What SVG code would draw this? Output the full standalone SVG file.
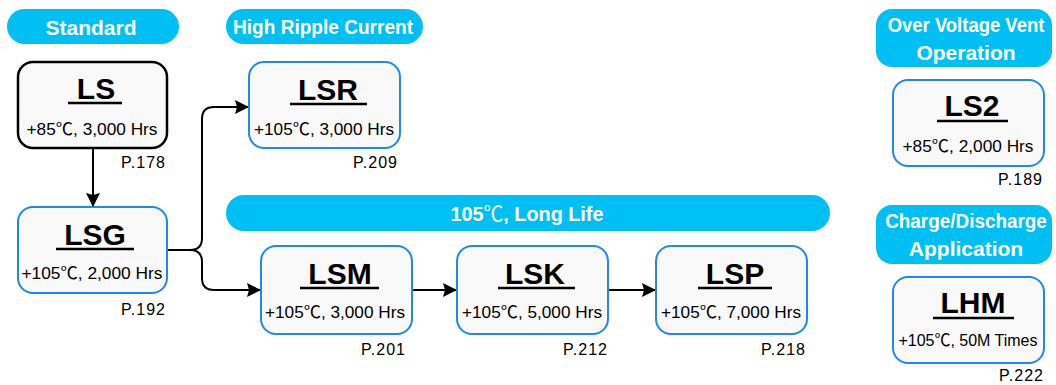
<svg xmlns="http://www.w3.org/2000/svg" width="1056" height="385" viewBox="0 0 1056 385">
<defs>
<marker id="arr" viewBox="0 0 14 14" refX="14" refY="7" markerWidth="14" markerHeight="14" markerUnits="userSpaceOnUse" orient="auto">
<path d="M0,0 L14,7 L0,14 L2,7 Z" fill="#000"/>
</marker>
<style>
.pill{fill:#00BFF3;}
.ptxt{font-family:"Liberation Sans","Noto Sans CJK SC",sans-serif;font-weight:bold;font-size:21px;fill:#fff;text-anchor:middle;}
.box{fill:#f9f9f9;stroke:#1E88F0;stroke-width:2;}
.boxk{fill:#f9f9f9;stroke:#000;stroke-width:2.5;}
.title{font-family:"Liberation Sans",sans-serif;font-weight:bold;font-size:30px;fill:#000;text-anchor:middle;}
.ul{stroke:#000;stroke-width:2.5;}
.sub{font-family:"Liberation Sans","Noto Sans CJK SC",sans-serif;font-size:16.5px;fill:#000;text-anchor:middle;}
.deg{font-family:"Noto Sans CJK SC",sans-serif;font-weight:normal;}
.pg{font-family:"Liberation Sans",sans-serif;font-size:16px;fill:#000;text-anchor:end;}
.con{fill:none;stroke:#000;stroke-width:2;}
</style>
</defs>
<rect width="1056" height="385" fill="#fff"/>

<g id="hdr-standard"><rect class="pill" x="7" y="9" width="172" height="35" rx="17.5"/><text class="ptxt" x="91" y="35" font-size="22">Standard</text></g>
<g id="hdr-ripple"><rect class="pill" x="226" y="9" width="197" height="35" rx="17.5"/><text class="ptxt" x="323" y="34" textLength="180" lengthAdjust="spacingAndGlyphs">High Ripple Current</text></g>
<g id="hdr-longlife"><rect class="pill" x="226" y="195" width="604" height="36" rx="18"/><text class="ptxt" x="527" y="221" textLength="153" lengthAdjust="spacingAndGlyphs">105<tspan class="deg">℃</tspan>, Long Life</text></g>
<g id="hdr-vent"><rect class="pill" x="876" y="9" width="176" height="58" rx="16"/><text class="ptxt" transform="translate(966,32) scale(0.88,1)">Over Voltage Vent</text><text class="ptxt" x="966" y="60">Operation</text></g>
<g id="hdr-charge"><rect class="pill" x="876" y="205" width="176" height="59" rx="16"/><text class="ptxt" transform="translate(966,228) scale(0.9,1)">Charge/Discharge</text><text class="ptxt" x="966" y="256">Application</text></g>

<g id="connectors">
<path class="con" d="M93,148 V207" marker-end="url(#arr)"/>
<path class="con" d="M167,250 H190 Q202,250 202,238 V119 Q202,107 214,107 H249" marker-end="url(#arr)"/>
<path class="con" d="M190,250 Q202,250 202,262 V278 Q202,290 214,290 H261" marker-end="url(#arr)"/>
<path class="con" d="M412,290 H457" marker-end="url(#arr)"/>
<path class="con" d="M608,290 H656" marker-end="url(#arr)"/>
</g>

<g id="node-LS"><rect class="boxk" x="18" y="62" width="149" height="86" rx="15"/><text class="title" x="96" y="99" font-size="29">LS</text><line class="ul" x1="68" y1="103" x2="122" y2="103"/><text class="sub" x="92" y="135" textLength="131" lengthAdjust="spacingAndGlyphs">+85<tspan class="deg">℃</tspan>, 3,000 Hrs</text><text class="pg" x="165" y="168" textLength="44">P.178</text></g>
<g id="node-LSG"><rect class="box" x="18" y="207" width="149" height="86" rx="15"/><text class="title" x="95" y="245">LSG</text><line class="ul" x1="56" y1="249" x2="134" y2="249"/><text class="sub" x="92" y="279" textLength="141" lengthAdjust="spacingAndGlyphs">+105<tspan class="deg">℃</tspan>, 2,000 Hrs</text><text class="pg" x="165" y="315" textLength="44">P.192</text></g>
<g id="node-LSR"><rect class="box" x="249" y="62" width="151" height="86" rx="15"/><text class="title" x="328" y="100">LSR</text><line class="ul" x1="290" y1="104" x2="367" y2="104"/><text class="sub" x="324" y="135" textLength="140" lengthAdjust="spacingAndGlyphs">+105<tspan class="deg">℃</tspan>, 3,000 Hrs</text><text class="pg" x="397" y="168" textLength="44">P.209</text></g>
<g id="node-LSM"><rect class="box" x="261" y="246" width="151" height="88" rx="15"/><text class="title" x="340" y="284">LSM</text><line class="ul" x1="300" y1="288" x2="379" y2="288"/><text class="sub" x="335" y="318" textLength="140" lengthAdjust="spacingAndGlyphs">+105<tspan class="deg">℃</tspan>, 3,000 Hrs</text><text class="pg" x="405" y="355" textLength="44">P.201</text></g>
<g id="node-LSK"><rect class="box" x="457" y="246" width="151" height="88" rx="15"/><text class="title" x="535" y="284">LSK</text><line class="ul" x1="498" y1="288" x2="575" y2="288"/><text class="sub" x="532" y="318" textLength="140" lengthAdjust="spacingAndGlyphs">+105<tspan class="deg">℃</tspan>, 5,000 Hrs</text><text class="pg" x="607" y="355" textLength="44">P.212</text></g>
<g id="node-LSP"><rect class="box" x="656" y="246" width="151" height="88" rx="15"/><text class="title" x="735" y="284">LSP</text><line class="ul" x1="698" y1="288" x2="772" y2="288"/><text class="sub" x="731" y="318" textLength="140" lengthAdjust="spacingAndGlyphs">+105<tspan class="deg">℃</tspan>, 7,000 Hrs</text><text class="pg" x="805" y="355" textLength="44">P.218</text></g>
<g id="node-LS2"><rect class="box" x="893" y="80" width="151" height="86" rx="15"/><text class="title" x="972" y="116">LS2</text><line class="ul" x1="937" y1="121" x2="1008" y2="121"/><text class="sub" x="968" y="152" textLength="131" lengthAdjust="spacingAndGlyphs">+85<tspan class="deg">℃</tspan>, 2,000 Hrs</text><text class="pg" x="1042" y="185" textLength="44">P.189</text></g>
<g id="node-LHM"><rect class="box" x="893" y="277" width="151" height="86" rx="15"/><text class="title" x="973" y="313">LHM</text><line class="ul" x1="933" y1="318" x2="1014" y2="318"/><text class="sub" x="968" y="346" textLength="139" lengthAdjust="spacingAndGlyphs">+105<tspan class="deg">℃</tspan>, 50M Times</text><text class="pg" x="1043" y="381" textLength="44">P.222</text></g>
</svg>
